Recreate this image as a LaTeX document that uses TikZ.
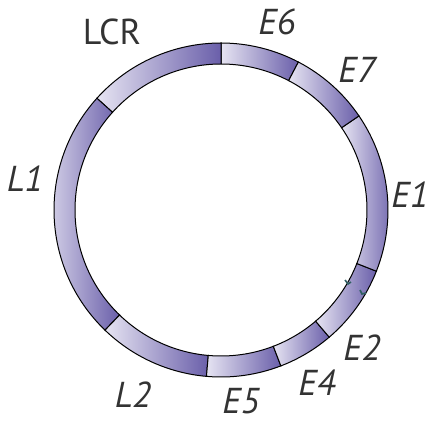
\documentclass[tikz,border=0pt]{standalone}
\usepackage{fontspec}
\setmainfont{PT Sans}
\usepackage{xcolor}
\definecolor{seglight}{HTML}{E6E4F2}
\definecolor{segdark}{HTML}{6A5FAA}
\definecolor{labelgray}{HTML}{333333}
\definecolor{markteal}{HTML}{2F5E62}
\usepackage{tikz}
\usetikzlibrary{calc}
\tikzset{
  seg/.style={draw=black, line width=1pt, left color=seglight, right color=segdark},
  glabel/.style={font=\fontsize{36}{40}\selectfont\itshape, text=labelgray, anchor=base, inner sep=0pt},
  rlabel/.style={font=\fontsize{36}{40}\selectfont, text=labelgray, anchor=base, inner sep=0pt},
  tick/.style={draw=markteal, line width=1.6pt},
}

\begin{document}
\begin{tikzpicture}[x=1pt, y=1pt]
  \useasboundingbox (0,0) rectangle (428,423);
  \coordinate (c) at (221,213);

  % Ring segments
  \foreach \from/\to in {62.4/90, 90/138, 138/226, 226/265, 265/291,
                         291/310.4, 310.4/338.5, 338.5/394.3, 34.3/62.4}
    \draw[seg] ($(c)+(\from:167)$) arc[start angle=\from, end angle=\to, radius=167]
      -- ($(c)+(\to:146)$) arc[start angle=\to, end angle=\from, radius=146] -- cycle;

  % Marks
  \draw[tick] (345,143) -- (348,139) -- (351,141);
  \draw[tick] (360,133) -- (362,129) -- (366,130);

  % Labels
  \node[rlabel] (lcr) at (112,378) {LCR};
  \node[glabel] (e6) at (277,388) {E6};
  \node[glabel] (e7) at (357,340) {E7};
  \node[glabel] (e1) at (410,215) {E1};
  \node[glabel] (l1) at (25,231)  {L1};
  \node[glabel] (l2) at (133,16)  {L2};
  \node[glabel] (e5) at (241,10)  {E5};
  \node[glabel] (e4) at (317,28)  {E4};
  \node[glabel] (e2) at (362,63)  {E2};
\end{tikzpicture}
\end{document}
